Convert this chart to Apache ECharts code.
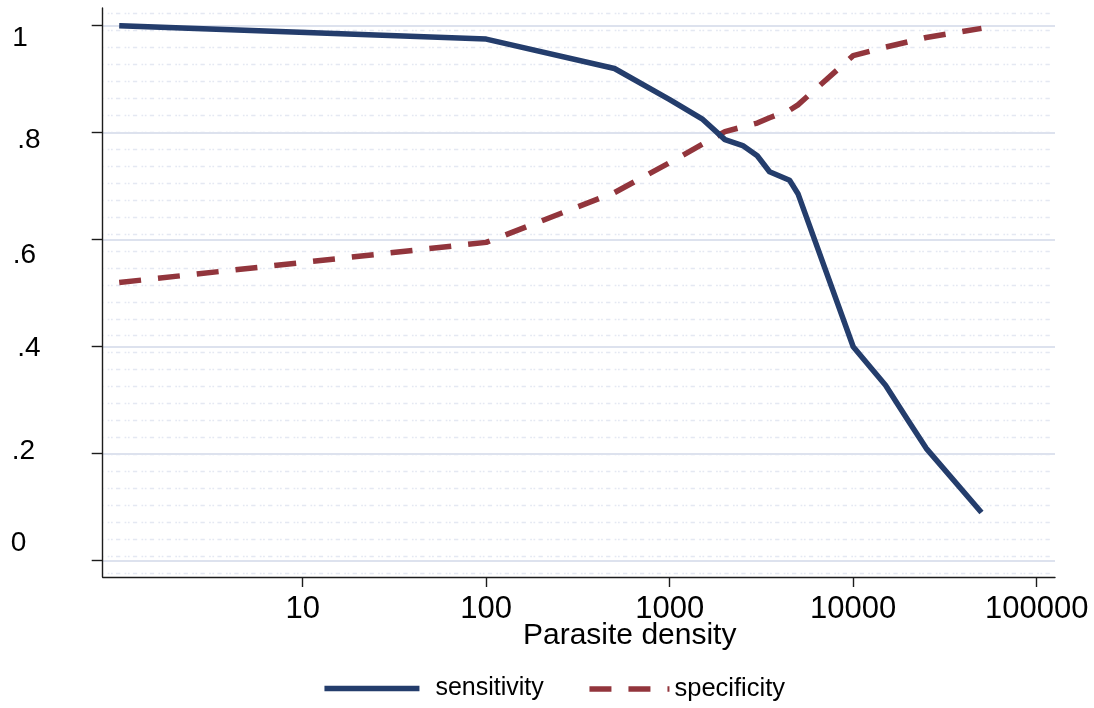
<!DOCTYPE html>
<html>
<head>
<meta charset="utf-8">
<script src="https://cdn.jsdelivr.net/npm/echarts@6/dist/echarts.min.js"></script>
<style>
html,body{margin:0;padding:0;background:#fff;}
#chart{width:1094px;height:708px;}
</style>
</head>
<body>
<div id="chart"></div>
<script>
// ---- data ----
const xCutoffs    = [1, 100, 500, 1000, 1500, 2000, 2500, 3000, 3500, 4500, 5000, 10000, 15000, 20000, 25000, 50000];
const sensitivity = [1.000, 0.975, 0.920, 0.862, 0.826, 0.787, 0.776, 0.757, 0.727, 0.711, 0.686, 0.400, 0.328, 0.261, 0.210, 0.090];
const specificity = [0.520, 0.595, 0.688, 0.744, 0.778, 0.802, 0.811, 0.818, 0.828, 0.842, 0.852, 0.944, 0.960, 0.970, 0.978, 0.995];
const seriesNames = ['sensitivity', 'specificity'];
const xTickValues = [10, 100, 1000, 10000, 100000];
const xTickLabels = ['10', '100', '1000', '10000', '100000'];
const yTickValues = [0, 0.2, 0.4, 0.6, 0.8, 1];
const yTickLabels = ['0', '.2', '.4', '.6', '.8', '1'];
const xTitle = 'Parasite density';

const FONT = "'Liberation Sans', Arial, Helvetica, sans-serif";
const BLUE = '#243d6c';
const RED = '#92353c';
const AXIS = '#1c1c1c';

// vertical / horizontal nudges of the y tick labels (as in the reference)
const yNudge = [[-17.4, 0], [-2.5, 1], [1.5, 6.5], [16, 2], [7.7, 6.5], [12.6, 1.5]];
const rich = {};
yNudge.forEach(([dy, dx], i) => {
  rich['t' + i] = {
    fontSize: 28, fontFamily: FONT, color: '#000',
    padding: dy >= 0 ? [2 * dy, 0, 0, dx] : [0, 0, -2 * dy, dx]
  };
});

const chart = echarts.init(document.getElementById('chart'), null, {renderer: 'canvas'});
const hidden = {axisLine: {show: false}, axisTick: {show: false}, axisLabel: {show: false}, splitLine: {show: false}};
const legendCommon = {
  top: 676, padding: 0, itemHeight: 24,
  itemStyle: {opacity: 0, color: 'rgba(0,0,0,0)', borderWidth: 0},
  lineStyle: {width: 5.5}
};

chart.setOption({
  animation: false,
  backgroundColor: '#ffffff',
  title: {
    text: xTitle, left: 518, top: 616,
    textStyle: {fontSize: 30, fontWeight: 'normal', color: '#000', fontFamily: FONT}
  },
  legend: [
    Object.assign({}, legendCommon, {
      data: [seriesNames[0]], left: 321.7, itemWidth: 95,
      textStyle: {fontSize: 25, color: '#000', fontFamily: FONT, padding: [0, 0, 0, 11]}
    }),
    Object.assign({}, legendCommon, {
      data: [seriesNames[1]], left: 581.7, itemWidth: 85,
      textStyle: {fontSize: 25.5, color: '#000', fontFamily: FONT}
    })
  ],
  grid: [
    {left: 102.7, right: 39, top: 8, bottom: 131, containLabel: false},      // frame
    {left: 102.7, right: 42, top: 13.3, bottom: 134.7, containLabel: false}, // background pattern
    {left: 102.7, right: 39, top: 25.7, bottom: 147.3, containLabel: false}, // data + y scale
    {left: 302.7, right: 57.3, top: 8, bottom: 131, containLabel: false}     // x ticks / labels
  ],
  xAxis: [
    Object.assign({}, hidden, {gridIndex: 0, type: 'value', min: 0, max: 1, z: 5,
      axisLine: {show: true, onZero: false, lineStyle: {color: AXIS, width: 1.4}}}),
    Object.assign({}, hidden, {gridIndex: 1, type: 'value', min: 0, max: 1}),
    Object.assign({}, hidden, {gridIndex: 2, type: 'log', logBase: 10, min: 0.813, max: 125800}),
    {
      gridIndex: 3, type: 'log', logBase: 10, min: 10, max: 100000, splitNumber: 4,
      axisLine: {show: false},
      axisTick: {show: true, length: 10, lineStyle: {color: AXIS, width: 1.4}},
      axisLabel: {
        fontSize: 31, fontFamily: FONT, color: '#000', margin: 17,
        formatter: v => { const i = xTickValues.indexOf(Math.round(v)); return i >= 0 ? xTickLabels[i] : ''; }
      },
      splitLine: {show: false}
    }
  ],
  yAxis: [
    Object.assign({}, hidden, {gridIndex: 0, type: 'value', min: 0, max: 1, z: 5,
      axisLine: {show: true, onZero: false, lineStyle: {color: AXIS, width: 1.4}}}),
    Object.assign({}, hidden, {gridIndex: 1, type: 'value', min: 0, max: 33, interval: 1,
      splitLine: {show: true, lineStyle: {color: '#e4e8f2', width: 1.3, type: [1.7, 1.6, 1.7, 3.3, 4.3, 4.3], dashOffset: -5}}}),
    {
      gridIndex: 2, type: 'value', min: 0, max: 1, interval: 0.2,
      axisLine: {show: false},
      axisTick: {show: true, length: 11, lineStyle: {color: AXIS, width: 1.4}},
      axisLabel: {
        align: 'left', margin: 92, rich: rich,
        formatter: v => { const i = Math.round(v * 5); return '{t' + i + '|' + yTickLabels[i] + '}'; }
      },
      splitLine: {show: true, lineStyle: {color: '#dde2ee', width: 2}}
    },
    Object.assign({}, hidden, {gridIndex: 3, type: 'value', min: 0, max: 1})
  ],
  series: [
    {
      name: seriesNames[0], type: 'line', xAxisIndex: 2, yAxisIndex: 2,
      data: xCutoffs.map((x, i) => [x, sensitivity[i]]),
      symbol: 'none', z: 3,
      itemStyle: {color: BLUE},
      lineStyle: {color: BLUE, width: 5.5, cap: 'butt', join: 'round'}
    },
    {
      name: seriesNames[1], type: 'line', xAxisIndex: 2, yAxisIndex: 2,
      data: xCutoffs.map((x, i) => [x, specificity[i]]),
      symbol: 'none', z: 2,
      itemStyle: {color: RED},
      lineStyle: {color: RED, width: 5.5, type: [22, 17], cap: 'butt', join: 'round'}
    }
  ]
});
</script>
</body>
</html>
